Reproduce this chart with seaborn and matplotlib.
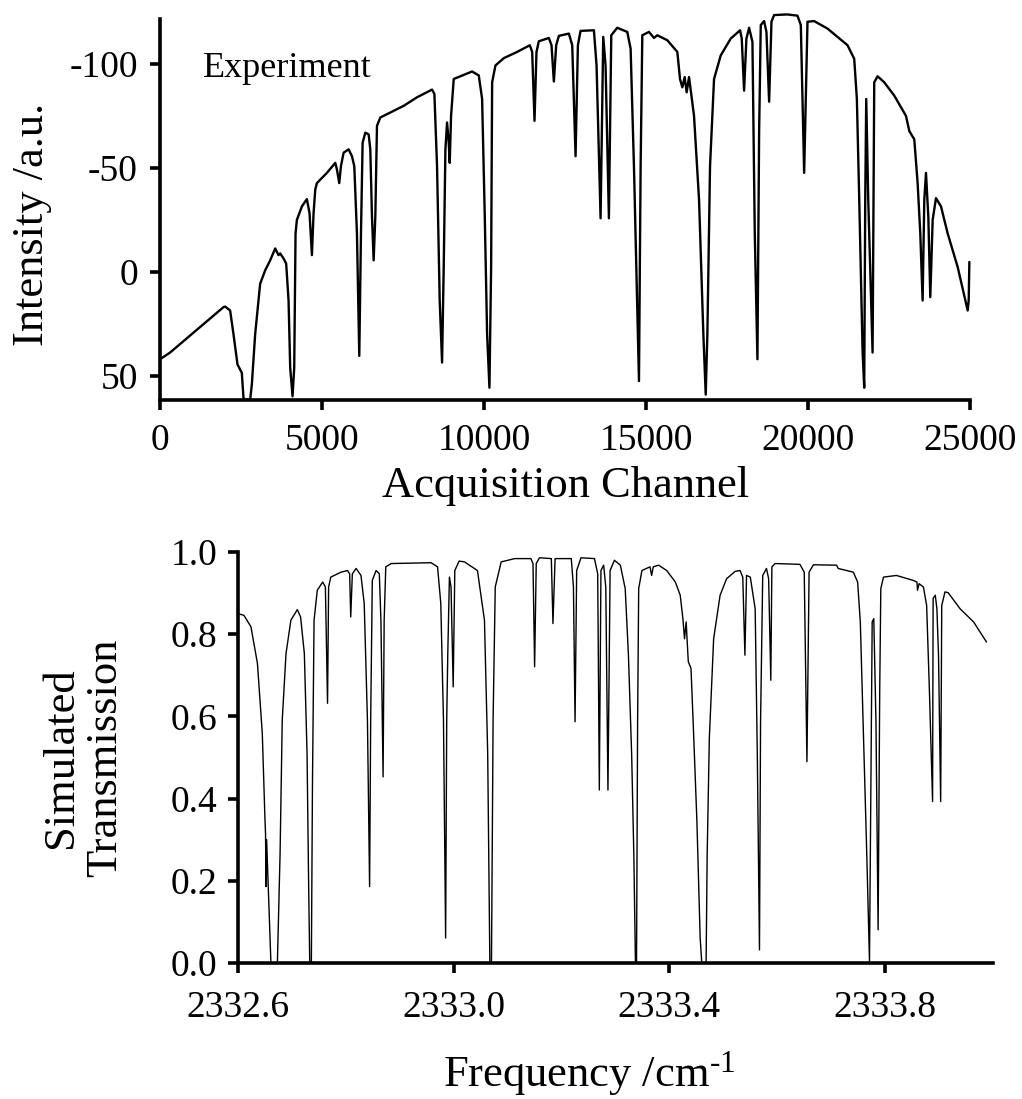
import matplotlib
matplotlib.use("Agg")
import matplotlib.pyplot as plt
import pandas as pd
import seaborn as sns

# ---------------- data ----------------
channel = [0, 309, 1957, 2009, 2163, 2266, 2390, 2472, 2524, 2575, 2627, 2781, 2833,
           2936, 3090, 3245, 3399, 3554, 3657, 3708, 3811, 3893, 3966, 4017, 4089,
           4141, 4182, 4223, 4378, 4532, 4614, 4687, 4738, 4790, 4841, 5150, 5408,
           5459, 5531, 5583, 5665, 5820, 5923, 5995, 6077, 6149, 6201, 6252, 6335,
           6438, 6489, 6541, 6592, 6644, 6695, 6798, 7107, 7519, 7931, 8395, 8467,
           8549, 8631, 8704, 8755, 8807, 8858, 8910, 8940, 8982, 9064, 9270, 9631,
           9837, 9940, 10022, 10094, 10166, 10218, 10249, 10352, 10609, 11021, 11412,
           11485, 11557, 11618, 11691, 11999, 12082, 12154, 12226, 12309, 12618,
           12721, 12824, 12896, 12978, 13390, 13472, 13596, 13678, 13750, 13853,
           13926, 14111, 14420, 14523, 14626, 14781, 14832, 14884, 15090, 15244,
           15347, 15656, 15965, 16047, 16120, 16192, 16253, 16326, 16480, 16635,
           16768, 16841, 16892, 16974, 17098, 17304, 17613, 17901, 17953, 18025,
           18097, 18180, 18283, 18355, 18437, 18489, 18540, 18643, 18715, 18798,
           18870, 18952, 19364, 19673, 19776, 19828, 19879, 19931, 19982, 20188,
           20600, 20909, 21218, 21424, 21506, 21579, 21682, 21733, 21764, 21795,
           21857, 21991, 22042, 22145, 22351, 22660, 23021, 23124, 23278, 23381,
           23463, 23535, 23587, 23639, 23711, 23772, 23845, 23948, 24102, 24308,
           24617, 24926, 24957, 24978]
intensity = [41.9, 38.7, 16.9, 16.6, 18.5, 29.8, 44.4, 46.8, 48.4, 60.5, 61.3, 61.3, 54.0,
             29.8, 5.6, -0.8, -5.6, -11.3, -8.1, -8.9, -6.5, -4.0, 13.7, 46.0, 59.7,
             46.0, -18.5, -25.0, -31.5, -35.0, -28.2, -8.1, -28.2, -39.5, -42.7, -47.6, -52.4,
             -49.2, -42.7, -50.8, -57.3, -58.9, -55.6, -50.8, -18.5, 40.3, -18.5, -62.1, -66.9,
             -66.1, -58.9, -26.6, -5.6, -26.6, -70.2, -74.2, -76.6, -79.8, -83.9, -87.6, -85.5,
             -50.8, 13.7, 43.5, -2.4, -58.9, -71.8, -62.1, -52.4, -75.0, -92.7, -94.0, -96.3,
             -94.4, -83.1, -26.6, 29.8, 55.6, -2.4, -91.1, -99.2, -102.7, -105.7, -108.9,
             -105.7, -72.6, -105.7, -110.8, -112.4, -108.9, -91.5, -108.9, -113.4, -114.5,
             -108.9, -55.6, -108.9, -115.8, -116.1, -99.2, -25.8, -112.9, -99.2, -25.8,
             -113.7, -117.3, -115.3, -107.3, -50.8, 52.4, -50.8, -113.7, -115.3, -112.4,
             -113.7, -111.3, -105.7, -92.7, -88.7, -93.6, -86.3, -93.6, -75.0, -34.7,
             29.8, 58.9, 29.8, -50.8, -92.7, -104.0, -112.1, -116.1, -112.1, -87.1,
             -112.1, -117.3, -110.5, -18.5, 41.9, -66.9, -118.6, -120.5, -115.3, -81.8,
             -120.2, -123.4, -123.7, -123.1, -118.6, -83.1, -47.6, -83.1, -120.2, -120.5,
             -116.9, -112.9, -108.9, -102.4, -83.1, -34.7, 37.9, 55.6, -34.7, -83.1,
             -34.7, 38.7, -91.1, -94.0, -91.1, -84.7, -75.0, -67.7, -63.7, -42.7,
             -18.5, 13.7, -34.7, -47.6, -26.6, 12.1, -25.0, -35.5, -31.5, -18.5,
             -2.4, 18.5, 13.7, -4.8]

frequency = [2332.600, 2332.611, 2332.624, 2332.636, 2332.645, 2332.650, 2332.651, 2332.652,
             2332.653, 2332.656, 2332.661, 2332.673, 2332.678, 2332.682, 2332.689, 2332.698,
             2332.710, 2332.716, 2332.723, 2332.728, 2332.731, 2332.733, 2332.736, 2332.738,
             2332.741, 2332.747, 2332.757, 2332.762, 2332.766, 2332.768, 2332.772, 2332.791,
             2332.803, 2332.807, 2332.809, 2332.812, 2332.819, 2332.828, 2332.834, 2332.840,
             2332.844, 2332.846, 2332.849, 2332.856, 2332.862, 2332.865, 2332.869, 2332.871,
             2332.874, 2332.884, 2332.958, 2332.970, 2332.976, 2332.981, 2332.985, 2332.987,
             2332.989, 2332.992, 2332.995, 2332.999, 2333.002, 2333.010, 2333.020, 2333.044,
             2333.057, 2333.063, 2333.067, 2333.070, 2333.073, 2333.077, 2333.088, 2333.113,
             2333.143, 2333.147, 2333.150, 2333.153, 2333.159, 2333.181, 2333.184, 2333.188,
             2333.218, 2333.222, 2333.225, 2333.228, 2333.236, 2333.261, 2333.267, 2333.270,
             2333.273, 2333.278, 2333.282, 2333.286, 2333.290, 2333.298, 2333.309, 2333.318,
             2333.324, 2333.330, 2333.334, 2333.337, 2333.339, 2333.341, 2333.343, 2333.349,
             2333.364, 2333.367, 2333.370, 2333.380, 2333.395, 2333.411, 2333.420, 2333.425,
             2333.428, 2333.431, 2333.435, 2333.440, 2333.444, 2333.451, 2333.457, 2333.460,
             2333.468, 2333.470, 2333.474, 2333.482, 2333.494, 2333.506, 2333.522, 2333.531,
             2333.536, 2333.540, 2333.543, 2333.550, 2333.559, 2333.563, 2333.567, 2333.569,
             2333.573, 2333.580, 2333.584, 2333.588, 2333.590, 2333.596, 2333.642, 2333.650,
             2333.655, 2333.659, 2333.667, 2333.710, 2333.713, 2333.741, 2333.749, 2333.754,
             2333.760, 2333.766, 2333.771, 2333.773, 2333.776, 2333.779, 2333.783, 2333.787,
             2333.790, 2333.792, 2333.797, 2333.821, 2333.852, 2333.859, 2333.860, 2333.863,
             2333.871, 2333.877, 2333.882, 2333.888, 2333.889, 2333.893, 2333.896, 2333.899,
             2333.903, 2333.905, 2333.911, 2333.917, 2333.939, 2333.964, 2333.988]
transmission = [0.850, 0.846, 0.818, 0.729, 0.559, 0.348, 0.316, 0.186,
                0.300, 0.186, 0.000, 0.000, 0.267, 0.591, 0.753, 0.834,
                0.860, 0.842, 0.753, 0.510, 0.186, 0.000, 0.000, 0.429,
                0.834, 0.907, 0.927, 0.915, 0.632, 0.915, 0.939, 0.951,
                0.955, 0.947, 0.842, 0.947, 0.960, 0.943, 0.875, 0.591,
                0.186, 0.591, 0.931, 0.955, 0.947, 0.834, 0.453, 0.834,
                0.964, 0.972, 0.974, 0.964, 0.875, 0.591, 0.061, 0.591,
                0.753, 0.939, 0.915, 0.672, 0.955, 0.978, 0.976, 0.955,
                0.834, 0.510, 0.000, 0.000, 0.591, 0.915, 0.976, 0.984,
                0.984, 0.972, 0.721, 0.972, 0.986, 0.984, 0.826, 0.984,
                0.984, 0.915, 0.587, 0.955, 0.986, 0.984, 0.947, 0.421,
                0.955, 0.968, 0.915, 0.421, 0.955, 0.980, 0.968, 0.911,
                0.749, 0.506, 0.263, 0.000, 0.000, 0.587, 0.911, 0.955,
                0.964, 0.943, 0.964, 0.968, 0.955, 0.927, 0.895, 0.838,
                0.789, 0.830, 0.733, 0.717, 0.587, 0.344, 0.061, 0.000,
                0.000, 0.263, 0.547, 0.789, 0.895, 0.935, 0.953, 0.955,
                0.939, 0.749, 0.943, 0.939, 0.862, 0.506, 0.032, 0.587,
                0.943, 0.960, 0.935, 0.688, 0.964, 0.972, 0.970, 0.951,
                0.490, 0.951, 0.969, 0.968, 0.960, 0.951, 0.927, 0.830,
                0.547, 0.263, 0.004, 0.344, 0.830, 0.838, 0.587, 0.081,
                0.668, 0.911, 0.939, 0.943, 0.931, 0.927, 0.907, 0.923,
                0.915, 0.870, 0.668, 0.393, 0.887, 0.895, 0.862, 0.749,
                0.393, 0.870, 0.903, 0.901, 0.862, 0.830, 0.781]

top_xticks = [0, 5000, 10000, 15000, 20000, 25000]
top_yticks = [-100, -50, 0, 50]
bottom_xticks = [2332.6, 2333.0, 2333.4, 2333.8]
bottom_xticklabels = ["2332.6", "2333.0", "2333.4", "2333.8"]
bottom_yticks = [0.0, 0.2, 0.4, 0.6, 0.8, 1.0]
bottom_yticklabels = ["0.0", "0.2", "0.4", "0.6", "0.8", "1.0"]

# ---------------- style ----------------
sns.set_style("ticks")
plt.rcParams["font.family"] = ["Liberation Serif", "DejaVu Serif"]
plt.rcParams["mathtext.fontset"] = "custom"
plt.rcParams["mathtext.rm"] = "Liberation Serif"
plt.rcParams["mathtext.it"] = "Liberation Serif:italic"
plt.rcParams["axes.unicode_minus"] = False
for key in ("text.color", "axes.labelcolor", "axes.edgecolor",
            "xtick.color", "ytick.color"):
    plt.rcParams[key] = "black"

TICK_FS = 27
LABEL_FS = 32

fig = plt.figure(figsize=(10.22, 10.99), dpi=100)
ax1 = fig.add_axes([0.1566, 0.6360, 0.7926, 0.3467])
ax2 = fig.add_axes([0.2329, 0.1237, 0.7387, 0.3740])

df_top = pd.DataFrame({"channel": channel, "intensity": intensity})
df_bot = pd.DataFrame({"frequency": frequency, "transmission": transmission})

sns.lineplot(data=df_top, x="channel", y="intensity", ax=ax1, color="black",
             linewidth=1.7, estimator=None, sort=False)
sns.lineplot(data=df_bot, x="frequency", y="transmission", ax=ax2, color="black",
             linewidth=1.0, estimator=None, sort=False)
for ln in ax1.lines:
    ln.set_clip_on(False)

# ---------------- top panel ----------------
ax1.set_xlim(0, 25000)
ax1.set_ylim(61.5, -121.5)
ax1.set_xticks(top_xticks)
ax1.set_xticklabels([str(v) for v in top_xticks])
ax1.set_yticks(top_yticks)
ax1.set_yticklabels([str(v) for v in top_yticks])
ax1.tick_params(axis="x", labelsize=TICK_FS, pad=10)
ax1.tick_params(axis="y", labelsize=TICK_FS, pad=9)
ax1.set_xlabel("Acquisition Channel", fontsize=LABEL_FS)
ax1.xaxis.label.set_va("center")
ax1.xaxis.set_label_coords(0.5, -0.225)
ax1.set_ylabel("Intensity /a.u.", fontsize=LABEL_FS)
ax1.yaxis.label.set_va("center")
ax1.yaxis.set_label_coords(-0.158, 0.46)
ax1.text(0.157, 0.871, "Experiment", transform=ax1.transAxes, fontsize=26,
         ha="center", va="center")

# ---------------- bottom panel ----------------
ax2.set_xlim(2332.6, 2334.0)
ax2.set_ylim(0.0, 1.0)
ax2.set_xticks(bottom_xticks)
ax2.set_xticklabels(bottom_xticklabels)
ax2.set_yticks(bottom_yticks)
ax2.set_yticklabels(bottom_yticklabels)
ax2.tick_params(axis="x", labelsize=TICK_FS, pad=13)
ax2.tick_params(axis="y", labelsize=TICK_FS, pad=8)
ax2.set_xlabel("Frequency /cm$^{\\text{-}1}$", fontsize=LABEL_FS)
ax2.xaxis.label.set_va("center")
ax2.xaxis.set_label_coords(0.465, -0.268)
ax2.set_ylabel("Simulated\nTransmission", fontsize=LABEL_FS, linespacing=1.15)
ax2.yaxis.label.set_va("center")
ax2.yaxis.set_label_coords(-0.205, 0.5)

for ax in (ax1, ax2):
    ax.spines["top"].set_visible(False)
    ax.spines["right"].set_visible(False)
    ax.spines["left"].set_linewidth(2.6)
    ax.spines["bottom"].set_linewidth(2.6)
    ax.tick_params(direction="out", length=7, width=2.6, color="black",
                   labelcolor="black")
    ax.grid(False)

fig.savefig("out.png", dpi=100)
